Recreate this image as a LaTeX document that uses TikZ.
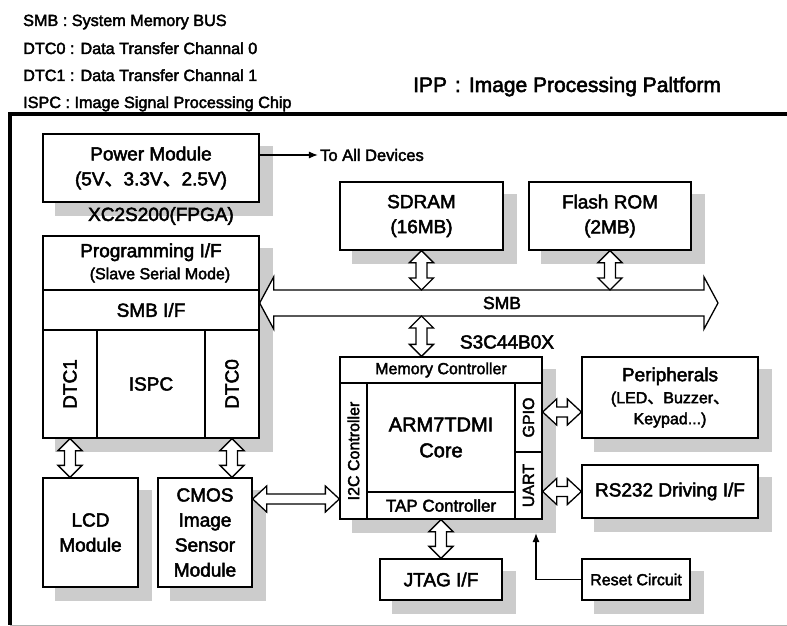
\documentclass[tikz,border=0pt]{standalone}
\usepackage{fontspec}
\setmainfont{Liberation Sans}[FakeBold=2.5]
\newfontfamily\cjk{Noto Sans CJK SC}[FakeBold=2.5]
\usetikzlibrary{backgrounds,calc,arrows.meta}

\definecolor{shadowgray}{RGB}{204,204,204}
\newcommand{\boxfont}{\fontsize{19}{25}\selectfont}
\newcommand{\subfont}{\fontsize{16}{22}\selectfont}
\newcommand{\legendfont}{\fontsize{16.2}{20}\selectfont}
\newcommand{\titlefont}{\fontsize{21}{24}\selectfont}
\newcommand{\cjkcomma}{{\cjk 、}}

% hollow double arrow, vertical: x from #1, top y from #1, bottom y from #2
\newcommand{\vdarrow}[2]{%
  \draw[blockarrow] let \p1=(#1), \p2=(#2) in
    (\x1,\y1) -- (\x1+12pt,\y1-12pt) -- (\x1+5.5pt,\y1-12pt) -- (\x1+5.5pt,\y2+12pt)
    -- (\x1+12pt,\y2+12pt) -- (\x1,\y2) -- (\x1-12pt,\y2+12pt) -- (\x1-5.5pt,\y2+12pt)
    -- (\x1-5.5pt,\y1-12pt) -- (\x1-12pt,\y1-12pt) -- cycle;}
% hollow double arrow, horizontal: y from #1, #3 head half width, #4 shaft half width, #5 head length
\newcommand{\hdarrow}[5]{%
  \draw[blockarrow] let \p1=(#1), \p2=(#2) in
    (\x1,\y1) -- (\x1+#5,\y1+#3) -- (\x1+#5,\y1+#4) -- (\x2-#5,\y1+#4)
    -- (\x2-#5,\y1+#3) -- (\x2,\y1) -- (\x2-#5,\y1-#3) -- (\x2-#5,\y1-#4)
    -- (\x1+#5,\y1-#4) -- (\x1+#5,\y1-#3) -- cycle;}

\begin{document}
\begin{tikzpicture}[x=1pt, y=-1pt,
  box/.style={draw, line width=1.3pt, fill=white, inner sep=0pt, align=center, font=\boxfont},
  part/.style={draw, line width=1.3pt, inner sep=0pt, align=center, font=\boxfont},
  small/.style={font=\subfont},
  blockarrow/.style={line width=1.3pt, fill=white, line join=miter},
  thinarrow/.style={line width=1.3pt, -{Latex[length=9pt,width=7pt]}}]
\useasboundingbox (0,0) rectangle (787,626);

% legend and title
\node[anchor=base west, inner sep=0pt, font=\legendfont] (lgsmb) at (23,26) {SMB : System Memory BUS};
\node[anchor=base west, inner sep=0pt, font=\legendfont] (lgdtczero) at (23,54) {DTC0 : Data Transfer Channal 0};
\node[anchor=base west, inner sep=0pt, font=\legendfont] (lgdtcone) at (23,81) {DTC1 : Data Transfer Channal 1};
\node[anchor=base west, inner sep=0pt, font=\legendfont] (lgispc) at (23,108) {ISPC : Image Signal Processing Chip};
\node[anchor=base west, inner sep=0pt, font=\titlefont] (title) at (413,92) {IPP\hspace{8pt}:\hspace{8pt}Image Processing Paltform};

% frame
\draw[line width=4pt] (787,114) -- (9.5,114) -- (9.5,625);
\draw[line width=1pt, black!30] (9.5,625) -- (787,625);

% power
\node[box, minimum width=216, minimum height=68] (power) at (151,168)
  {Power Module\\(5V\cjkcomma 3.3V\cjkcomma 2.5V)};
\node[small, font=\fontsize{16.5}{20}\selectfont, inner sep=2pt] (todev) at (372,155) {To All Devices};

% FPGA
\node[font=\boxfont] (fpganame) at (161,216) {XC2S200(FPGA)};
\node[box, minimum width=216, minimum height=202] (fpga) at (151,337) {};
\node[part, minimum width=216, minimum height=54] (progif) at (151,263)
  {Programming I/F\\[-3pt]{\subfont\hspace*{18pt}(Slave Serial Mode)}};
\node[part, minimum width=216, minimum height=40] (smbif) at (151,310) {SMB I/F};
\node[part, rotate=90, minimum width=108, minimum height=54] (dtcone) at (70,384) {DTC1};
\node[part, minimum width=108, minimum height=108] (ispc) at (151,384) {ISPC};
\node[part, rotate=90, minimum width=108, minimum height=54] (dtczero) at (232,384) {DTC0};

\node[box, minimum width=95, minimum height=109] (lcd) at (90.5,532.5) {LCD\\Module};
\node[box, minimum width=94, minimum height=109] (cmos) at (205,532.5) {CMOS\\Image\\Sensor\\Module};

% memories
\node[box, minimum width=163, minimum height=68] (sdram) at (421.5,216) {SDRAM\\(16MB)};
\node[box, minimum width=162, minimum height=68] (flash) at (610,216) {Flash ROM\\(2MB)};

% S3C44B0X
\node[font=\boxfont] (s3cname) at (507,342) {S3C44B0X};
\node[box, minimum width=202, minimum height=162] (s3c) at (441,438) {};
\node[part, small, minimum width=202, minimum height=26] (memctl) at (441,370) {Memory Controller};
\node[part, small, rotate=90, minimum width=136, minimum height=27] (i2c) at (353.5,451) {I2C Controller};
\node[part, font=\fontsize{20}{26}\selectfont, minimum width=148, minimum height=109] (core) at (441,437.5) {ARM7TDMI\\Core};
\node[part, font=\fontsize{17}{20}\selectfont, minimum width=148, minimum height=27] (tap) at (441,505.5) {TAP Controller};
\node[part, small, rotate=90, minimum width=69, minimum height=27] (gpio) at (528.5,417.5) {GPIO};
\node[part, small, rotate=90, minimum width=67, minimum height=27] (uart) at (528.5,485.5) {UART};

% devices
\node[box, minimum width=176, minimum height=81] (periph) at (670,397.5)
  {Peripherals\\[-3pt]{\subfont (LED\cjkcomma Buzzer\cjkcomma}\\[-4pt]{\subfont Keypad...)}};
\node[box, minimum width=176, minimum height=53] (rs) at (670,491.5) {RS232 Driving I/F};
\node[box, minimum width=122, minimum height=41] (jtag) at (441,579.5) {JTAG I/F};
\node[box, small, minimum width=108, minimum height=41] (reset) at (636,579.5) {Reset Circuit};

% shadows
\begin{scope}[on background layer]
\foreach \b in {power,fpga,lcd,cmos,sdram,flash,s3c,periph,rs,jtag,reset}
  \fill[shadowgray] ([xshift=13pt,yshift=-13pt]\b.south west) rectangle ([xshift=13pt,yshift=-13pt]\b.north east);
\end{scope}

% bus
\coordinate (busend) at (718,303);
\coordinate (bustop) at (718,290);
\coordinate (busbot) at (718,316);
\hdarrow{[yshift=7pt]smbif.east}{busend}{26pt}{13pt}{14pt}
\node[font=\fontsize{17.5}{20}\selectfont] (smb) at (502,303) {SMB};

% connections
\draw[thinarrow] (power.east |- todev) -- (todev.west);
\vdarrow{sdram.south}{bustop}
\vdarrow{flash.south}{bustop}
\vdarrow{sdram |- busbot}{memctl.north}
\vdarrow{dtcone |- fpga.south}{lcd.north}
\vdarrow{dtczero |- fpga.south}{cmos.north}
\hdarrow{[yshift=33.5pt]cmos.east}{s3c.west}{13pt}{5pt}{14pt}
\hdarrow{s3c.east |- 0,412}{periph.west}{13pt}{5pt}{14pt}
\hdarrow{s3c.east |- rs}{rs.west}{13pt}{5pt}{14pt}
\vdarrow{tap |- s3c.south}{jtag.north}
\coordinate (resetend) at (536,533);
\draw[thinarrow] (reset.west) -| (resetend);
\end{tikzpicture}
\end{document}
